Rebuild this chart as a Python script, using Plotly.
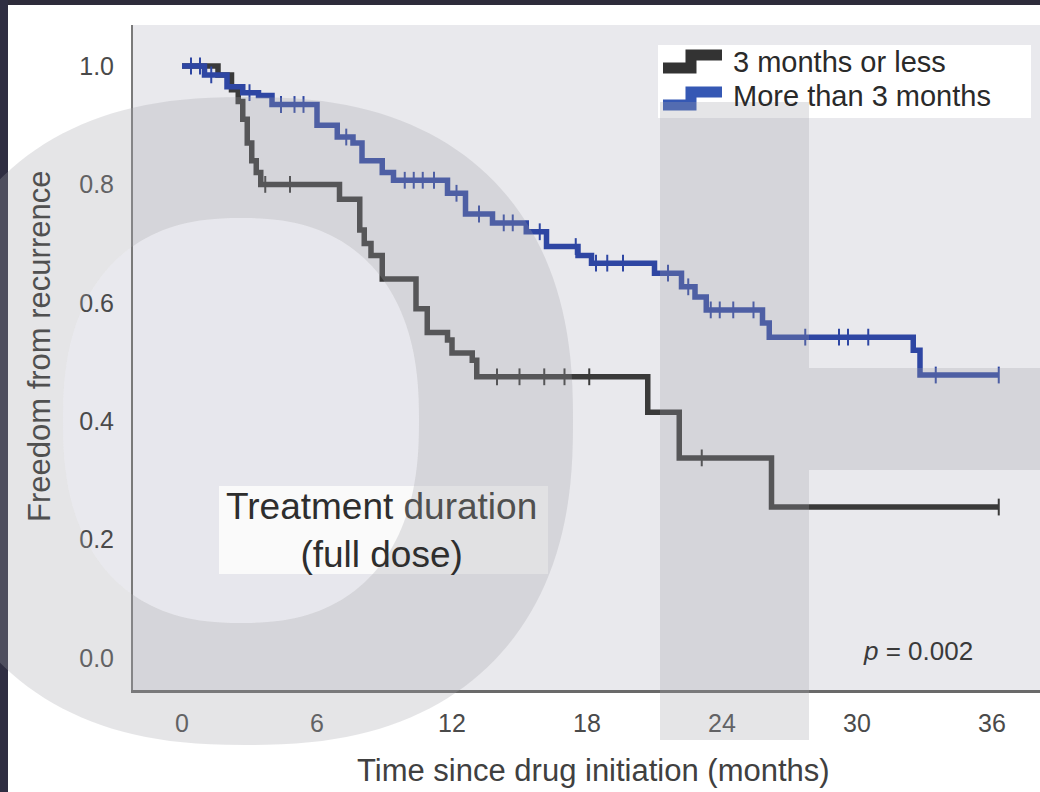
import numpy as np
import plotly.graph_objects as go

# ---------------- data ----------------
end_time = 36.3

black_t = [0, 1.6, 2.2, 2.5, 2.7, 2.9, 3.1, 3.3, 3.5, 7.0, 7.9, 8.1, 8.4, 8.9,
           10.4, 10.9, 11.8, 12.0, 12.9, 13.1, 20.7, 22.1, 26.2]
black_s = [1.0, 0.985, 0.96, 0.94, 0.91, 0.87, 0.84, 0.82, 0.80, 0.775, 0.723, 0.70,
           0.68, 0.64, 0.59, 0.55, 0.537, 0.515, 0.503, 0.475, 0.415, 0.338, 0.255]
black_censor = [3.7, 4.8, 14.0, 15.0, 16.1, 17.0, 18.1, 23.1, 36.3]

blue_t = [0, 1.0, 2.0, 2.7, 3.4, 4.0, 6.0, 6.9, 7.6, 8.0, 8.9, 9.4, 11.8, 12.6,
          13.8, 15.3, 16.2, 17.6, 18.2, 21.0, 22.2, 22.8, 23.3, 25.8, 26.1, 32.5, 32.8]
blue_s = [1.0, 0.985, 0.965, 0.955, 0.95, 0.935, 0.90, 0.88, 0.87, 0.84, 0.82, 0.807,
          0.785, 0.75, 0.735, 0.72, 0.695, 0.68, 0.667, 0.65, 0.627, 0.61, 0.588,
          0.566, 0.542, 0.52, 0.478]
blue_censor = [0.4, 0.8, 1.3, 3.0, 4.4, 5.0, 5.4, 7.3, 9.9, 10.3, 10.7, 11.2, 12.2,
               13.2, 14.3, 14.7, 15.9, 17.5, 18.4, 18.9, 19.6, 21.6, 22.5, 23.5,
               23.9, 24.5, 25.4, 27.7, 29.2, 29.6, 30.5, 33.5, 36.3]

x_ticks = [0, 6, 12, 18, 24, 30, 36]
y_ticks = [0.0, 0.2, 0.4, 0.6, 0.8, 1.0]
y_ticktext = ["0.0", "0.2", "0.4", "0.6", "0.8", "1.0"]

series_names = ["3 months or less", "More than 3 months"]
black_color = "#3a3a3a"
blue_color = "#2e46a3"

FONT = "Liberation Sans, Arial, Helvetica, sans-serif"

# ---------------- geometry helpers (decorations only) ----------------
L, R, T, B = 133, 1040, 25, 690
W, H = 1040, 792


def px(x):
    return (x - L) / (R - L)


def py(y):
    return (B - y) / (B - T)


def superellipse(cx, cy, rx, ry, n=2.4, N=180):
    pts = []
    for k in range(N):
        th = 2 * np.pi * k / N
        c, s = np.cos(th), np.sin(th)
        x = cx + rx * np.sign(c) * abs(c) ** (2 / n)
        y = cy + ry * np.sign(s) * abs(s) ** (2 / n)
        pts.append(f"{px(x):.5f},{py(y):.5f}")
    return "M " + " L ".join(pts) + " Z"


def step_value(ts, ss, t):
    i = np.searchsorted(np.array(ts), t, side="right") - 1
    return ss[max(i, 0)]


fig = go.Figure()

for ts, ss, cens, name, col in [
    (black_t, black_s, black_censor, series_names[0], black_color),
    (blue_t, blue_s, blue_censor, series_names[1], blue_color),
]:
    fig.add_trace(go.Scatter(
        x=ts + [end_time], y=ss + [ss[-1]], mode="lines", name=name,
        line=dict(color=col, width=5.5, shape="hv"), showlegend=False,
    ))
    fig.add_trace(go.Scatter(
        x=cens, y=[step_value(ts, ss, c) for c in cens], mode="markers",
        marker=dict(symbol="line-ns", size=12, line=dict(color=col, width=2)),
        showlegend=False, hoverinfo="skip",
    ))

overlay = "rgba(160,160,170,0.28)"


def rect(x0, y0, x1, y1, color, layer="above"):
    return dict(type="rect", xref="paper", yref="paper", x0=px(x0), x1=px(x1),
                y0=py(y1), y1=py(y0), fillcolor=color, line=dict(width=0), layer=layer)


def polyline(points, color, width):
    d = "M " + " L ".join(f"{px(a):.5f},{py(b):.5f}" for a, b in points)
    return dict(type="path", xref="paper", yref="paper", path=d,
                line=dict(color=color, width=width), layer="above")


shapes = [
    # inner part of the watermark "O" (under the curves)
    dict(type="path", xref="paper", yref="paper", path=superellipse(241, 420.5, 178, 202.5),
         fillcolor="rgba(231,231,236,0.9)", line=dict(width=0), layer="below"),
    rect(0, 0, W, 5, "#2e2c3b"),
    rect(0, 0, 8, H, "#2f2e42"),
    rect(658, 45, 1031, 118, "white"),
    polyline([(663, 68), (691, 68), (691, 55), (722, 55)], "#333333", 11),
    polyline([(663, 105), (691, 105), (691, 92), (722, 92)], "#3558b4", 11),
    rect(219, 486, 548, 574, "#fafafa"),
    dict(type="path", xref="paper", yref="paper",
         path=superellipse(246, 421, 327, 324) + " " + superellipse(241, 420.5, 178, 202.5),
         fillcolor=overlay, line=dict(width=0), layer="above"),
    rect(660, 102, 809, 740, overlay),
    rect(809, 368, 1040, 470, overlay),
]

annotations = [
    dict(text="Freedom from recurrence", x=px(40), y=py(347), textangle=-90,
         font=dict(size=31, color="#505050", family=FONT)),
    dict(text="Time since drug initiation (months)", x=px(593), y=py(770),
         font=dict(size=31, color="#404040", family=FONT)),
    dict(text="Treatment <span style='color:#505050'>duration</span><br>(full dose)",
         x=px(381), y=py(530), font=dict(size=37, color="#2e2e2e", family=FONT)),
    dict(text="<i>p</i> = 0.002", x=px(918), y=py(651),
         font=dict(size=26, color="#3a3a3a", family=FONT)),
    dict(text=series_names[0], x=px(731), y=py(62), xanchor="left",
         font=dict(size=29, color="#2a2a2a", family=FONT)),
    dict(text=series_names[1], x=px(731), y=py(96), xanchor="left",
         font=dict(size=29, color="#2a2a2a", family=FONT)),
]
for a in annotations:
    a.update(xref="paper", yref="paper", showarrow=False)
    a.setdefault("xanchor", "center")
    a.setdefault("yanchor", "middle")

fig.update_layout(
    width=W, height=H,
    margin=dict(l=L, r=W - R, t=T, b=H - B, pad=0),
    paper_bgcolor="white", plot_bgcolor="#e9e9ed",
    shapes=shapes, annotations=annotations, showlegend=False,
    xaxis=dict(range=[(L - 182) / 22.5, (R - 182) / 22.5], tickvals=x_ticks,
               showgrid=False, zeroline=False, showline=True, linecolor="#6a6a6a",
               linewidth=2.5, ticks="outside", ticklen=9, tickcolor="rgba(0,0,0,0)",
               tickfont=dict(size=25, color="#4a4a4a", family=FONT)),
    yaxis=dict(range=[(658 - B) / 592, (658 - T) / 592], tickvals=y_ticks,
               ticktext=y_ticktext, showgrid=False, zeroline=False, showline=True,
               linecolor="#7a7a7a", linewidth=2, ticks="outside", ticklen=12,
               tickcolor="rgba(0,0,0,0)",
               tickfont=dict(size=25, color="#4a4a4a", family=FONT)),
)

fig.write_html("out.html")
